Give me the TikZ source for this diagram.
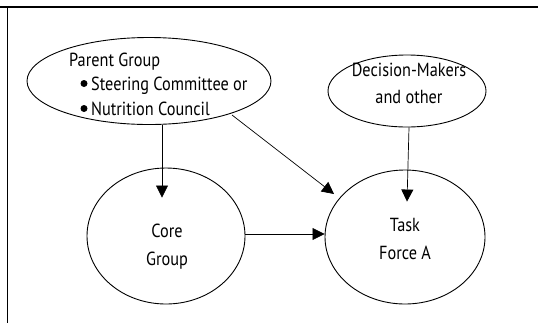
\documentclass[tikz,border=0pt]{standalone}
\usepackage{fontspec}
\setmainfont[FakeStretch=0.86]{PT Sans}
\usetikzlibrary{shapes.geometric,arrows.meta,calc}
\begin{document}
\begin{tikzpicture}[x=1bp,y=-1bp,
  ell/.style={draw,ellipse,inner sep=0pt,line width=0.9bp},
  arr/.style={draw,line width=0.7bp,-{Triangle[length=12bp,width=12bp]}},
  txt/.style={font=\fontsize{19}{22}\selectfont,inner sep=0pt,anchor=base},
  dot/.style={fill,circle,inner sep=0pt,minimum size=7bp}]
\useasboundingbox (0,0) rectangle (538,323);
\draw[line width=1.2bp] (0,7) -- (538,7);
\draw[line width=1bp] (7,7) -- (7,323);
% ellipses
\node[ell,minimum width=244bp,minimum height=87bp] (parent) at (149,81) {};
\node[ell,minimum width=158bp,minimum height=72bp] (dec) at (407,91) {};
\node[ell,minimum width=158bp,minimum height=136bp] (core) at (166,236) {};
\node[ell,minimum width=160bp,minimum height=134bp] (task) at (405,237) {};
% texts
\node[txt,anchor=base west] (p1) at (69,66.5) {Parent Group};
\node[dot] (b1) at (84,83.5) {};
\node[dot] (b2) at (84,108.5) {};
\node[txt,anchor=base west] (p2) at (91,90) {Steering Committee or};
\node[txt,anchor=base west] (p3) at (91,115) {Nutrition Council};
\node[txt] (d1) at (409,76) {Decision-Makers};
\node[txt] (d2) at (409,103) {and other};
\node[txt] (c1) at (167,237) {Core};
\node[txt] (c2) at (167,265) {Group};
\node[txt] (t1) at (405,231) {Task};
\node[txt] (t2) at (405,259) {Force A};
% connectors
\draw[arr] ([xshift=-4bp]core.north |- parent.south) -- ([xshift=-4bp,yshift=-30bp]core.north);
\draw[arr] ([xshift=2bp]dec.south) -- ([xshift=2bp,yshift=-32bp]task.north);
\draw[arr] (core.east |- task.west) ++(0,-3) -- (task.west |- 0,234);
\draw[arr] ($(parent.center)+(83,34)$) -- ($(task.center)+(-71,-43)$);
\end{tikzpicture}
\end{document}
